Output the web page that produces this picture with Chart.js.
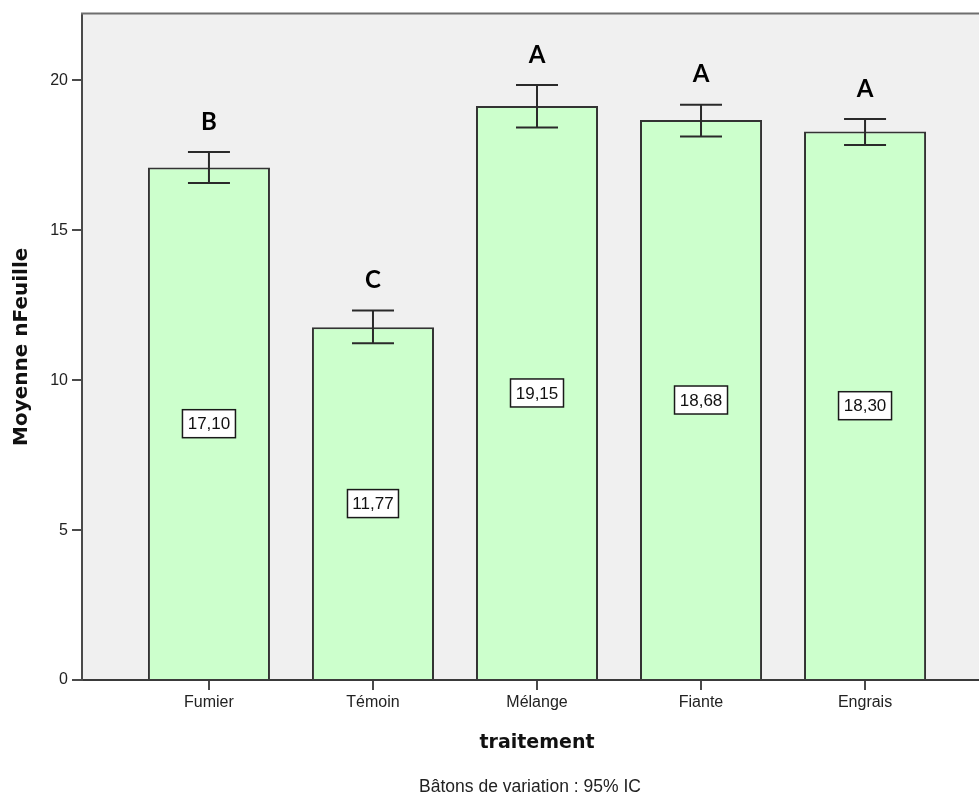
<!DOCTYPE html>
<html lang="fr">
<head>
<meta charset="utf-8">
<title>Moyenne nFeuille par traitement</title>
<script src="https://cdn.jsdelivr.net/npm/chart.js@4/dist/chart.umd.min.js"></script>
<style>
  html, body { margin: 0; padding: 0; background: #ffffff; overflow: hidden; }
  canvas { display: block; }
</style>
</head>
<body>
<canvas id="chart" width="1010" height="799"></canvas>
<script>
// Treatments and mean leaf counts with their 95% confidence intervals
const categories = ['Fumier', 'Témoin', 'Mélange', 'Fiante', 'Engrais'];
const means      = [17.10, 11.77, 19.15, 18.68, 18.30];
const ciLow      = [16.58, 11.23, 18.43, 18.13, 17.85];
const ciHigh     = [17.61, 12.33, 19.85, 19.19, 18.71];
const groups     = ['B', 'C', 'A', 'A', 'A'];
const yTicks     = [0, 5, 10, 15, 20];

const fmt = v => v.toFixed(2).replace('.', ',');

// Grey plot background plus frame line along the top
const frame = {
  id: 'frame',
  beforeDraw(chart) {
    const { ctx, chartArea: a } = chart;
    ctx.save();
    ctx.fillStyle = '#f0f0f0';
    ctx.fillRect(a.left, a.top, a.right - a.left, a.bottom - a.top);
    ctx.restore();
  },
  afterDraw(chart) {
    const { ctx, chartArea: a } = chart;
    ctx.save();
    ctx.strokeStyle = '#6e6e6e';
    ctx.lineWidth = 2;
    ctx.beginPath();
    ctx.moveTo(a.left - 1, a.top);
    ctx.lineTo(a.right, a.top);
    ctx.stroke();
    // caption under the axis title
    ctx.fillStyle = '#222';
    ctx.font = '17.5px "Liberation Sans", Arial, sans-serif';
    ctx.textAlign = 'center';
    ctx.textBaseline = 'middle';
    ctx.fillText('Bâtons de variation : 95% IC', 530, 787);
    ctx.restore();
  }
};

// Confidence interval whiskers, value boxes and group letters
const annotations = {
  id: 'annotations',
  afterDatasetsDraw(chart) {
    const { ctx, scales: { x, y } } = chart;
    ctx.save();
    means.forEach((m, i) => {
      const cx = x.getPixelForValue(i);
      const yHi = y.getPixelForValue(ciHigh[i]);
      const yLo = y.getPixelForValue(ciLow[i]);
      const cap = 21;

      ctx.strokeStyle = '#2a2a2a';
      ctx.lineWidth = 2;
      ctx.beginPath();
      ctx.moveTo(cx, yHi); ctx.lineTo(cx, yLo);
      ctx.moveTo(cx - cap, yHi); ctx.lineTo(cx + cap, yHi);
      ctx.moveTo(cx - cap, yLo); ctx.lineTo(cx + cap, yLo);
      ctx.stroke();

      // value box at mid-height of the bar
      const midY = (y.getPixelForValue(m) + y.getPixelForValue(0)) / 2;
      const txt = fmt(m);
      ctx.font = '17px "Liberation Sans", Arial, sans-serif';
      const w = Math.round(ctx.measureText(txt).width) + 10;
      const h = 28;
      ctx.fillStyle = '#ffffff';
      ctx.fillRect(cx - w / 2, midY - h / 2, w, h);
      ctx.strokeStyle = '#1a1a1a';
      ctx.lineWidth = 1.5;
      ctx.strokeRect(cx - w / 2, midY - h / 2, w, h);
      ctx.fillStyle = '#111';
      ctx.textAlign = 'center';
      ctx.textBaseline = 'middle';
      ctx.fillText(txt, cx, midY + 1);

      // significance group letter
      ctx.font = 'bold 24px Lato, "Open Sans", sans-serif';
      ctx.fillStyle = '#000';
      ctx.fillText(groups[i], cx, yHi - 30);
    });
    ctx.restore();
  }
};

new Chart(document.getElementById('chart'), {
  type: 'bar',
  data: {
    datasets: [{
      data: means.map((v, i) => ({ x: i, y: v })),
      backgroundColor: '#ccffcc',
      borderColor: '#333333',
      borderWidth: 2,
      barPercentage: 0.744,
      categoryPercentage: 1
    }]
  },
  options: {
    responsive: false,
    animation: false,
    devicePixelRatio: 1,
    layout: { padding: { top: 11, right: 18, left: 0, bottom: 0 } },
    plugins: { legend: { display: false }, tooltip: { enabled: false } },
    scales: {
      x: {
        type: 'linear',
        offset: false,
        min: -0.774,
        max: categories.length - 1 + 0.774,
        afterBuildTicks: s => { s.ticks = categories.map((_, i) => ({ value: i })); },
        afterFit: s => { s.height = 119; },
        ticks: {
          callback: v => categories[v],
          color: '#222',
          font: { family: '"Liberation Sans", Arial, sans-serif', size: 16 },
          padding: 3,
          maxRotation: 0,
          autoSkip: false
        },
        grid: { offset: false, drawOnChartArea: false, drawTicks: true, tickLength: 10, color: '#4a4a4a', lineWidth: 2 },
        border: { color: '#3a3a3a', width: 2 },
        title: {
          display: true,
          text: 'traitement',
          color: '#111',
          font: { family: '"DejaVu Sans", Verdana, sans-serif', size: 19, weight: 'bold' },
          padding: { top: 0, bottom: 45 }
        }
      },
      y: {
        min: 0,
        max: 22.23,
        afterBuildTicks: s => { s.ticks = yTicks.map(v => ({ value: v })); },
        afterFit: s => { s.width = 82; },
        ticks: {
          color: '#222',
          font: { family: '"Liberation Sans", Arial, sans-serif', size: 16 },
          padding: 4
        },
        grid: { drawOnChartArea: false, drawTicks: true, tickLength: 10, color: '#4a4a4a', lineWidth: 2 },
        border: { color: '#4a4a4a', width: 2 },
        title: {
          display: true,
          text: 'Moyenne nFeuille',
          color: '#111',
          font: { family: '"DejaVu Sans", Verdana, sans-serif', size: 20, weight: 'bold' },
          padding: { top: 10, bottom: 0 }
        }
      }
    }
  },
  plugins: [frame, annotations]
});
</script>
</body>
</html>
